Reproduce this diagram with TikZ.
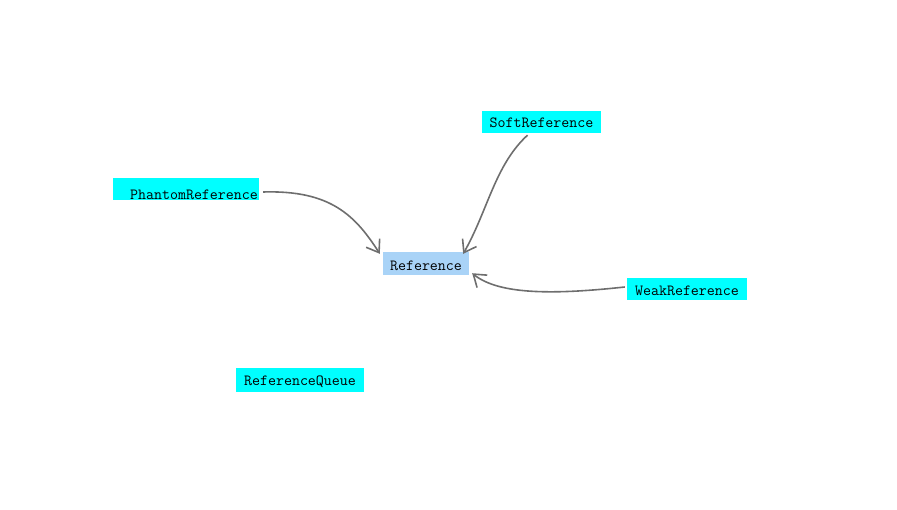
\documentclass[tikz,border=0pt]{standalone}
\usepackage{fontspec}
\usetikzlibrary{arrows.meta}
\definecolor{refcyan}{HTML}{00FFFF}
\definecolor{refblue}{HTML}{A9D3F7}
\definecolor{linkgray}{HTML}{6E6E6E}
\begin{document}
\begin{tikzpicture}[x=1pt,y=-1pt,
    box/.style={fill=refcyan,font=\ttfamily\fontsize{15.5}{17}\selectfont,inner sep=0pt,
      minimum height=22pt,text height=12pt,text depth=0pt},
    link/.style={draw=linkgray,line width=1.6pt,-{Straight Barb[angle=70:14pt,line width=1.6pt]}}]
  \useasboundingbox (0,0) rectangle (897,510);

  \node[box,minimum width=146pt,text height=21pt] (phantom) at (186,189) {\hspace*{16pt}PhantomReference};
  \node[box,minimum width=119pt] (soft) at (541.5,122) {SoftReference};
  \node[box,minimum width=86pt,fill=refblue,minimum height=23pt,text height=15pt] (ref) at (426,263.5) {Reference};
  \node[box,minimum width=120pt,text height=14pt] (weak) at (687,289) {WeakReference};
  \node[box,minimum width=128pt,minimum height=24pt] (queue) at (300,380) {ReferenceQueue};

  \draw[link] ([xshift=4pt,yshift=-3pt]phantom.east) .. controls (330,190) and (355,215) .. ([xshift=-3pt,yshift=-2pt]ref.north west);
  \draw[link] ([xshift=-14pt,yshift=-2pt]soft.south) .. controls (495,165) and (488,210) .. ([xshift=-6pt,yshift=-2pt]ref.north east);
  \draw[link] ([xshift=-2pt,yshift=2pt]weak.west) .. controls (560,294) and (500,296) .. ([xshift=3pt,yshift=2pt]ref.south east);
\end{tikzpicture}
\end{document}
